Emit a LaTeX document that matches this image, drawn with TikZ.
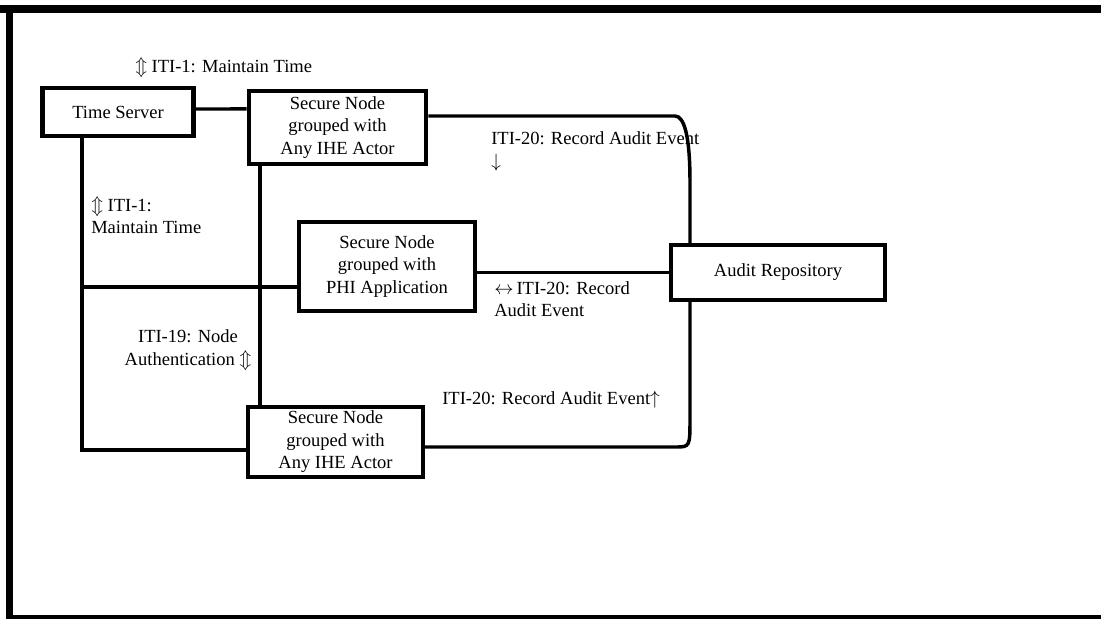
\documentclass[tikz,border=0pt]{standalone}
\usepackage{fontspec}
\setmainfont{Liberation Serif}
\usepackage{tikz}

\begin{document}
\begin{tikzpicture}[x=0.75pt,y=-0.75pt,
    every node/.style={font=\fontsize{13.9pt}{16.9pt}\selectfont},
    actor/.style={draw,line width=3.4pt,align=center,inner sep=0pt},
    link/.style={line width=2.6pt},
    note/.style={align=left,inner sep=0pt}]
    \useasboundingbox (0,0) rectangle (1101,619);
    \draw[line width=6pt] (0,9) -- (1101,9);
    \draw[line width=5pt] (9.5,6) -- (9.5,619);
    \draw[line width=3pt] (7,617) -- (1101,617);

    \node[actor,minimum width=113pt,minimum height=36pt] (ts) at (118,112) {Time Server};
    \node[actor,minimum width=133pt,minimum height=55pt] (sn1) at (337.5,127.5)
        {Secure Node\\grouped with\\Any IHE Actor};
    \node[actor,minimum width=132pt,minimum height=67pt] (phi) at (387,266.5)
        {Secure Node\\grouped with\\PHI Application};
    \node[actor,minimum width=160.5pt,minimum height=41pt] (ar) at (778,272.5) {Audit Repository};
    \node[actor,minimum width=131pt,minimum height=52.5pt] (sn3) at (335.5,442)
        {Secure Node\\grouped with\\Any IHE Actor};

    \coordinate (tsleg) at ([xshift=-27pt]ts.south);
    \coordinate (philink) at ([yshift=-15.4pt]phi.west);
    \coordinate (snbus) at ([xshift=-58pt]sn1.south);
    \coordinate (bendtop) at (690,116);
    \coordinate (bendbot) at (690,447);

    \draw[link] ([yshift=2.25pt]ts.east) -- ([yshift=13.9pt]sn1.west);
    \draw[link] (tsleg) |- ([yshift=-6pt]sn3.west);
    \draw[link] (philink) -- (philink -| tsleg);
    \draw[link] (snbus) -- (snbus |- sn3.north);
    \draw[link] (phi.east |- ar.west) -- (ar.west);
    \draw[link] (sn1.east |- bendtop) -- ([xshift=-11.25pt]bendtop)
        .. controls ([xshift=-4.5pt]bendtop) and ([yshift=-14.25pt]bendtop)
        .. ([yshift=-49.5pt]bendtop) -- (ar.north -| bendtop);
    \draw[link] (ar.south -| bendbot) -- ([yshift=21.75pt]bendbot)
        .. controls (bendbot) .. ([xshift=-11.25pt]bendbot) -- (sn3.east |- bendbot);

    \node[note,anchor=west] (lblsync) at (135,68) {$\Updownarrow$ ITI-1: Maintain Time};
    \node[note,anchor=west] (lbltime) at (91,215.5) {$\Updownarrow$ ITI-1:\\Maintain Time};
    \node[align=center,inner sep=0pt] (lblauth) at (188,350) {ITI-19: Node\\Authentication $\Updownarrow$};
    \node[note,anchor=west] (lblrec1) at (491,151.5) {ITI-20: Record Audit Event\\$\downarrow$};
    \node[note,anchor=west] (lblrec2) at (494,299) {$\leftrightarrow$\,ITI-20: Record\\Audit Event};
    \node[note,anchor=west] (lblrec3) at (442,400) {ITI-20: Record Audit Event$\uparrow$};
\end{tikzpicture}
\end{document}
